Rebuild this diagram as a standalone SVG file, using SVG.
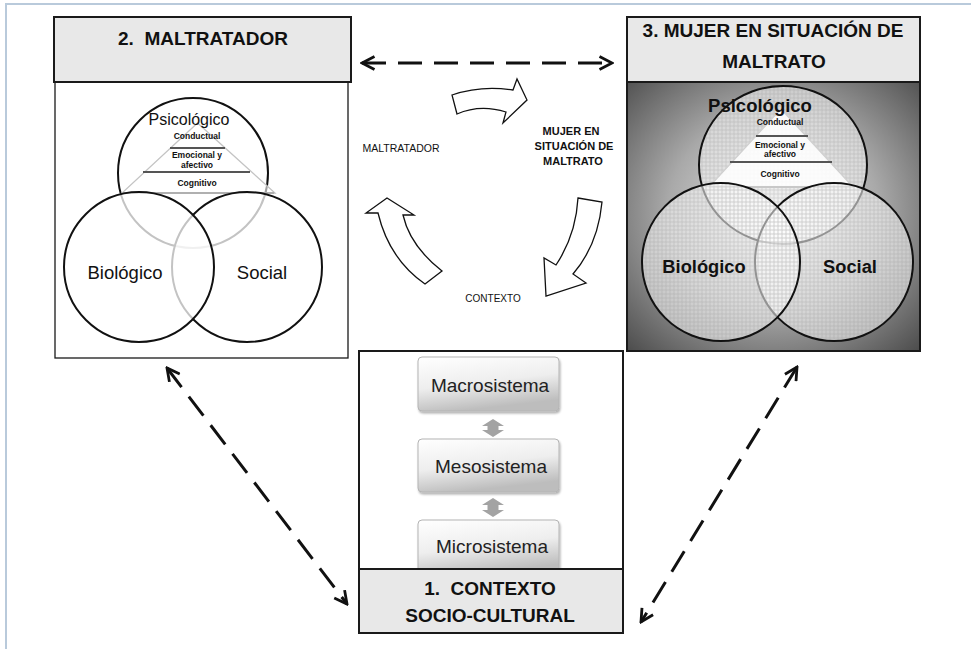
<svg xmlns="http://www.w3.org/2000/svg" width="971" height="649" viewBox="0 0 971 649">
  <style>
    .hdr { fill: #e8e8e8; stroke: #1a1a1a; stroke-width: 2; }
    .hdr-t { font-family: "Liberation Sans", Arial, sans-serif; font-weight: bold; font-size: 19px; fill: #111; text-anchor: middle; }
    .lbl { font-family: "Liberation Sans", Arial, sans-serif; fill: #111; text-anchor: middle; }
    .lbl-b { font-family: "Liberation Sans", Arial, sans-serif; font-weight: bold; fill: #111; text-anchor: middle; }
    .ring { stroke: #111; stroke-width: 2; }
    .layer { stroke: #555; stroke-width: 2; }
    .dash { fill: none; stroke: #111; stroke-width: 3; stroke-dasharray: 24 12; }
    .block { fill: #fff; stroke: #111; stroke-width: 1.3; stroke-linejoin: miter; }
    .sys { stroke: #b4b4b4; stroke-width: 1; fill: url(#sysFill); filter: url(#sysShadow); }
    .sys-t { font-family: "Liberation Sans", Arial, sans-serif; font-size: 19px; fill: #222; text-anchor: middle; }
    .dbl { fill: #a3a3a3; }
  </style>
  <defs>
    <marker id="chev" viewBox="0 0 16 16" refX="14" refY="8" markerWidth="16" markerHeight="16" markerUnits="userSpaceOnUse" orient="auto-start-reverse">
      <path d="M1.5,1.5 L14,8 L1.5,14.5" fill="none" stroke="#111" stroke-width="2.8"/>
    </marker>
    <radialGradient id="panelShade" cx="50%" cy="48%" r="72%">
      <stop offset="0" stop-color="#e4e4e4"/>
      <stop offset="0.5" stop-color="#a9a9a9"/>
      <stop offset="1" stop-color="#4c4c4c"/>
    </radialGradient>
    <pattern id="dots" width="4" height="4" patternUnits="userSpaceOnUse">
      <rect width="4" height="4" fill="#ffffff" fill-opacity="0.55"/>
      <circle cx="2" cy="2" r="1.2" fill="none" stroke="#8a8a8a" stroke-opacity="0.45" stroke-width="0.6"/>
    </pattern>
    <linearGradient id="sysFill" x1="0" y1="0" x2="0.3" y2="1">
      <stop offset="0" stop-color="#ffffff"/>
      <stop offset="0.55" stop-color="#eeeeee"/>
      <stop offset="1" stop-color="#bdbdbd"/>
    </linearGradient>
    <filter id="sysShadow" x="-10%" y="-10%" width="125%" height="130%">
      <feDropShadow dx="1" dy="2" stdDeviation="1.2" flood-color="#000" flood-opacity="0.3"/>
    </filter>
  </defs>

  <rect width="971" height="649" fill="#ffffff"/>
  <!-- page frame -->
  <path d="M6,649 L6,4 L971,4" fill="none" stroke="#b9cadb" stroke-width="2"/>

  <!-- 2. Maltratador -->
  <g id="node-maltratador">
    <rect x="55" y="82" width="293" height="276" fill="#fff" stroke="#1a1a1a" stroke-width="1.3"/>
    <rect class="hdr" x="54" y="17" width="297" height="65"/>
    <text class="hdr-t" x="203" y="45" xml:space="preserve">2.  MALTRATADOR</text>
    <circle class="ring" cx="193" cy="173" r="75" fill="#fff" fill-opacity="0.75"/>
    <polygon points="197.5,123 122,193 275,193" fill="#fff" fill-opacity="0.6" stroke="#c4c4c4" stroke-width="1.3"/>
    <line class="layer" x1="170" y1="148" x2="225" y2="148"/>
    <line class="layer" x1="143" y1="172" x2="250" y2="172"/>
    <line x1="123" y1="193" x2="274" y2="193" stroke="#b0b0b0" stroke-width="2"/>
    <circle class="ring" cx="247" cy="267" r="75" fill="#fff" fill-opacity="0.75"/>
    <circle class="ring" cx="139" cy="267" r="75" fill="#fff" fill-opacity="0.75"/>
    <text class="lbl" x="189" y="125" font-size="16">Psicológico</text>
    <text class="lbl-b" x="197" y="139" font-size="8.5">Conductual</text>
    <text class="lbl-b" x="197" y="158" font-size="8.5">Emocional y</text>
    <text class="lbl-b" x="197" y="168" font-size="8.5">afectivo</text>
    <text class="lbl-b" x="197" y="186" font-size="8.5">Cognitivo</text>
    <text class="lbl" x="125" y="279" font-size="18.5">Biológico</text>
    <text class="lbl" x="262" y="279" font-size="18.5">Social</text>
  </g>

  <!-- 3. Mujer en situación de maltrato -->
  <g id="node-mujer">
    <rect x="627" y="82" width="293" height="269" fill="url(#panelShade)" stroke="#1a1a1a" stroke-width="2"/>
    <rect class="hdr" x="627" y="17" width="293" height="65"/>
    <text class="hdr-t" x="773" y="37">3. MUJER EN SITUACIÓN DE</text>
    <text class="hdr-t" x="774" y="68">MALTRATO</text>
    <ellipse class="ring" cx="783" cy="165" rx="84" ry="79" fill="url(#dots)"/>
    <polygon points="781,109 709,187 853,187" fill="#fff" fill-opacity="0.88" stroke="#d0d0d0" stroke-width="1.2"/>
    <line class="layer" x1="756" y1="136" x2="808" y2="136"/>
    <line class="layer" x1="730" y1="162" x2="832" y2="162"/>
    <line x1="709" y1="187" x2="853" y2="187" stroke="#c8c8c8" stroke-width="2"/>
    <circle class="ring" cx="834" cy="262" r="79" fill="url(#dots)"/>
    <circle class="ring" cx="721" cy="262" r="79" fill="url(#dots)"/>
    <text class="lbl-b" x="760" y="112" font-size="18.5">Psicológico</text>
    <text class="lbl-b" x="780" y="125" font-size="8.5">Conductual</text>
    <text class="lbl-b" x="780" y="148" font-size="8.5">Emocional y</text>
    <text class="lbl-b" x="780" y="157" font-size="8.5">afectivo</text>
    <text class="lbl-b" x="780" y="177" font-size="8.5">Cognitivo</text>
    <text class="lbl-b" x="704" y="273" font-size="18.3">Biológico</text>
    <text class="lbl-b" x="850" y="273" font-size="18.3">Social</text>
  </g>

  <!-- 1. Contexto socio-cultural -->
  <g id="node-contexto">
    <rect x="359" y="351" width="264" height="218" fill="#fff" stroke="#1a1a1a" stroke-width="2"/>
    <rect class="sys" x="418" y="357" width="141" height="54" rx="4"/>
    <text class="sys-t" x="490" y="392">Macrosistema</text>
    <path class="dbl" d="M493,419 L504,426 L498.5,426 L498.5,430 L504,430 L493,437 L482,430 L487.5,430 L487.5,426 L482,426 Z"/>
    <rect class="sys" x="418" y="439" width="141" height="53" rx="4"/>
    <text class="sys-t" x="491" y="473">Mesosistema</text>
    <path class="dbl" d="M493,498 L504,505 L498.5,505 L498.5,510 L504,510 L493,517 L482,510 L487.5,510 L487.5,505 L482,505 Z"/>
    <rect class="sys" x="418" y="520" width="141" height="56" rx="4"/>
    <text class="sys-t" x="492" y="553">Microsistema</text>
    <rect class="hdr" x="359" y="569" width="264" height="64"/>
    <text class="hdr-t" x="490" y="595" font-size="18" xml:space="preserve">1.  CONTEXTO</text>
    <text class="hdr-t" x="490" y="622" font-size="18">SOCIO-CULTURAL</text>
  </g>

  <!-- cycle between the three levels -->
  <g id="node-ciclo">
    <path class="block" d="M452,95 Q481,85 513,90 L517,79 L527,100 L503,123 L506,112 Q480,104 457,114 Z"/>
    <path class="block" d="M578,198 L602,202 Q598,245 573,274 L586,283 L546,296 L544,258 L556,265 Q576,235 578,198 Z"/>
    <path class="block" d="M425,284 L442,271 Q410,246 403,215 L414,215 L387,198 L366,213 L378,213 Q389,259 425,284 Z"/>
    <text class="lbl" x="401" y="152" font-size="10.5">MALTRATADOR</text>
    <text class="lbl-b" x="571" y="135" font-size="11">MUJER EN</text>
    <text class="lbl-b" x="574" y="150" font-size="11">SITUACIÓN DE</text>
    <text class="lbl-b" x="573" y="165" font-size="11">MALTRATO</text>
    <text class="lbl" x="493" y="302" font-size="10">CONTEXTO</text>
  </g>

  <!-- dashed two-way connectors -->
  <g id="connectors">
    <line class="dash" x1="362" y1="63" x2="612" y2="63" marker-start="url(#chev)" marker-end="url(#chev)"/>
    <line class="dash" x1="167" y1="368" x2="347" y2="604" marker-start="url(#chev)" marker-end="url(#chev)"/>
    <line class="dash" x1="797" y1="367" x2="641" y2="622" marker-start="url(#chev)" marker-end="url(#chev)"/>
  </g>
</svg>
